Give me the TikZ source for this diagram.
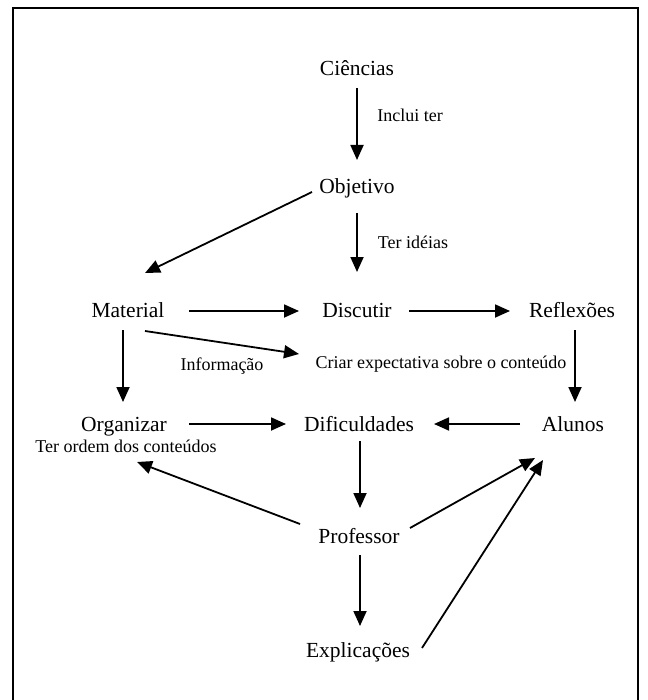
\documentclass[tikz,border=0pt]{standalone}
\usepackage{fontspec}
\setmainfont{Liberation Serif}
\usetikzlibrary{arrows.meta}
\begin{document}
\begin{tikzpicture}[x=1pt,y=-1pt,
  every node/.style={inner sep=0pt},
  concept/.style={font=\fontsize{21.5}{24}\selectfont, text height=14.2pt, text depth=0pt},
  lbl/.style={font=\fontsize{18}{21}\selectfont, text height=11.9pt, text depth=0pt},
  arr/.style={line width=1.8pt, -{Triangle[length=15pt,width=13pt]}},
  frame/.style={line width=2pt}]
\useasboundingbox (0,0) rectangle (647,700);
\draw[frame] (13,705) -- (13,8) -- (638,8) -- (638,705);

\node[concept] (cien) at (357,68) {Ciências};
\node[concept] (obj) at (357,186) {Objetivo};
\node[concept] (mat) at (128,310) {Material};
\node[concept] (disc) at (357,310) {Discutir};
\node[concept] (refl) at (572,310) {Reflexões};
\node[concept] (org) at (124,424) {Organizar};
\node[concept] (dif) at (359,424) {Dificuldades};
\node[concept] (alu) at (573,424) {Alunos};
\node[concept] (prof) at (359,536) {Professor};
\node[concept] (expl) at (358,650) {Explicações};
\node[lbl] (crit) at (441,363) {Criar expectativa sobre o conteúdo};
\node[lbl] (ordem) at (126,447) {Ter ordem dos conteúdos};
\node[lbl] (inclui) at (410,116) {Inclui ter};
\node[lbl] (ideias) at (413,243) {Ter idéias};
\node[lbl] (info) at (222,365) {Informação};

\draw[arr] ([shift={(0,20)}]cien.center) -- ([shift={(0,-26)}]obj.center);
\draw[arr] ([shift={(-45,6)}]obj.center) -- ([shift={(17,-37)}]mat.center);
\draw[arr] ([shift={(0,27)}]obj.center) -- ([shift={(0,-38)}]disc.center);
\draw[arr] ([shift={(61,1)}]mat.center) -- ([shift={(-58,1)}]disc.center);
\draw[arr] ([shift={(52,1)}]disc.center) -- ([shift={(-62,1)}]refl.center);
\draw[arr] ([shift={(17,21)}]mat.center) -- ([shift={(-142,-9)}]crit.center);
\draw[arr] ([shift={(-5,20)}]mat.center) -- ([shift={(-1,-22)}]org.center);
\draw[arr] ([shift={(3,20)}]refl.center) -- ([shift={(2,-22)}]alu.center);
\draw[arr] ([shift={(65,0)}]org.center) -- ([shift={(-73,0)}]dif.center);
\draw[arr] ([shift={(-53,0)}]alu.center) -- ([shift={(75,0)}]dif.center);
\draw[arr] ([shift={(1,17)}]dif.center) -- ([shift={(1,-28)}]prof.center);
\draw[arr] ([shift={(-59,-12)}]prof.center) -- ([shift={(11,15)}]ordem.center);
\draw[arr] ([shift={(51,-8)}]prof.center) -- ([shift={(-38,34)}]alu.center);
\draw[arr] ([shift={(64,-2)}]expl.center) -- ([shift={(-30,36)}]alu.center);
\draw[arr] ([shift={(1,19)}]prof.center) -- ([shift={(2,-24)}]expl.center);
\end{tikzpicture}
\end{document}
